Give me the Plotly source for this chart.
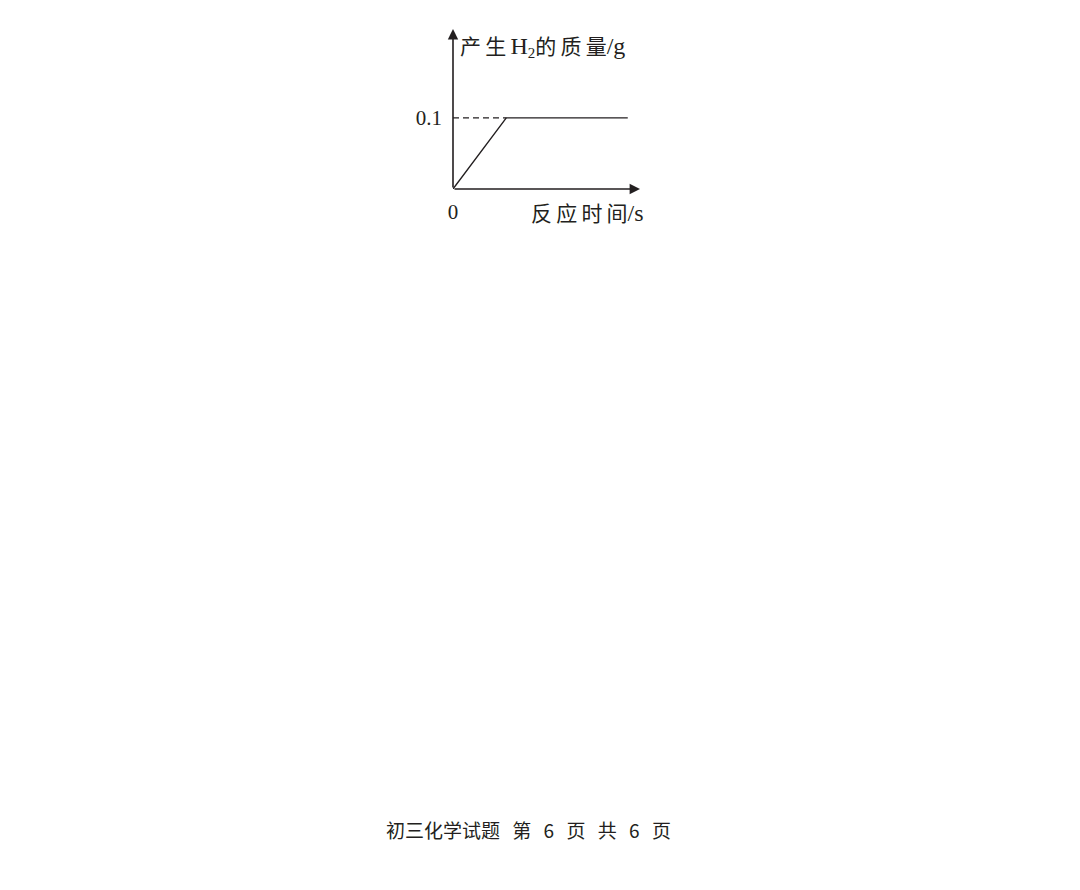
import plotly.graph_objects as go

# 反应时间 (相对单位) 与 产生H2的质量 (g)
time = [0, 1.0, 3.28]
mass = [0, 0.1, 0.1]
level_label = "0.1"
x_label = "反应时间/s"
y_label = "产生H<sub>2</sub>的质量/g"
footer = "初三化学试题 第 6 页 共 6 页"

ink = "#231f20"
cjk = "Noto Sans CJK SC"
serif = "Liberation Serif"

x_max = 3.51
y_max = 0.225


def spaced(s, sep="\u2009"):
    # 加宽字距, 接近宋体排版
    return sep.join(s)


def roman(s, size=24):
    return '<span style="font-family:Liberation Serif;font-size:%dpx">%s</span>' % (size, s)


fig = go.Figure()

# 生成曲线
fig.add_trace(go.Scatter(x=time, y=mass, mode="lines",
                         line=dict(color=ink, width=1.4), hoverinfo="skip"))
# 虚线 0.1
fig.add_trace(go.Scatter(x=[0, time[1]], y=[mass[1], mass[1]], mode="lines",
                         line=dict(color=ink, width=1.3, dash="6px,4px"), hoverinfo="skip"))

# 坐标轴箭头
fig.add_annotation(x=x_max, y=0, ax=0, ay=0, xref="x", yref="y", axref="x", ayref="y",
                   text="", showarrow=True, arrowhead=2, arrowsize=1.3, arrowwidth=1.6,
                   arrowcolor=ink)
fig.add_annotation(x=0, y=y_max, ax=0, ay=0, xref="x", yref="y", axref="x", ayref="y",
                   text="", showarrow=True, arrowhead=2, arrowsize=1.3, arrowwidth=1.6,
                   arrowcolor=ink)

# 轴标题
y_text = (spaced("产生") + "\u2009" + roman("H") + "<sub>" + roman("2", 15) + "</sub>"
          + spaced("的质量") + roman("/g"))
fig.add_annotation(x=0.028, y=0.9, xref="paper", yref="paper", xanchor="left", yanchor="middle",
                   text=y_text, showarrow=False, font=dict(family=cjk, size=21, color=ink))
x_text = spaced("反应时间") + roman("/s")
fig.add_annotation(x=1.03, y=-0.145, xref="paper", yref="paper", xanchor="right", yanchor="middle",
                   text=x_text, showarrow=False, font=dict(family=cjk, size=21, color=ink))

# 页脚
nb = "\u00a0\u00a0\u2009"
footer_text = nb.join(["初三化学试题", "第", "6", "页", "共", "6", "页"])
fig.add_annotation(x=0.405, y=-4.0, xref="paper", yref="paper", xanchor="center", yanchor="middle",
                   text=footer_text, showarrow=False,
                   font=dict(family=cjk + ", DejaVu Sans", size=19, color=ink))

fig.update_xaxes(range=[0, x_max], showgrid=False, zeroline=False, showline=False,
                 tickvals=[0], ticktext=["0"], ticks="", ticklabelstandoff=8,
                 tickfont=dict(family=serif, size=21, color=ink), fixedrange=True)
fig.update_yaxes(range=[0, y_max], showgrid=False, zeroline=False, showline=False,
                 tickvals=[mass[1]], ticktext=[level_label], ticks="", ticklabelstandoff=10,
                 tickfont=dict(family=serif, size=21, color=ink), fixedrange=True)

fig.update_layout(width=1080, height=890, showlegend=False,
                  margin=dict(l=445, r=448, t=21, b=709, pad=0),
                  paper_bgcolor="white", plot_bgcolor="white")

fig.write_html("out.html")
